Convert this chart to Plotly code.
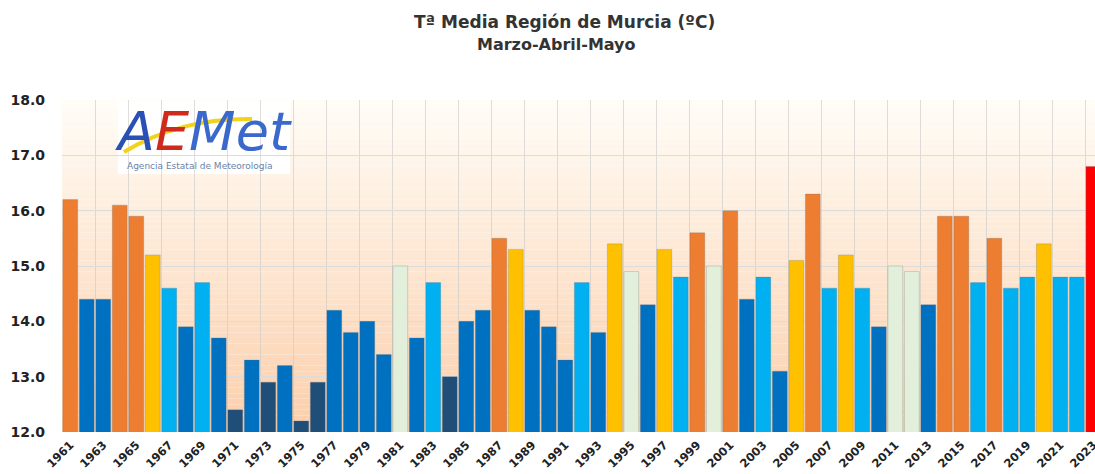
import plotly.graph_objects as go

years = list(range(1961, 2024))
values = [16.2, 14.4, 14.4, 16.1, 15.9, 15.2, 14.6, 13.9, 14.7, 13.7,
          12.4, 13.3, 12.9, 13.2, 12.2, 12.9, 14.2, 13.8, 14.0, 13.4,
          15.0, 13.7, 14.7, 13.0, 14.0, 14.2, 15.5, 15.3, 14.2, 13.9,
          13.3, 14.7, 13.8, 15.4, 14.9, 14.3, 15.3, 14.8, 15.6, 15.0,
          16.0, 14.4, 14.8, 13.1, 15.1, 16.3, 14.6, 15.2, 14.6, 13.9,
          15.0, 14.9, 14.3, 15.9, 15.9, 14.7, 15.5, 14.6, 14.8, 15.4,
          14.8, 14.8, 16.8]
# AEMET character: EC extremadamente cálido, MC muy cálido, C cálido, N normal,
# F frío, MF muy frío, EF extremadamente frío
classes = ["MC", "MF", "MF", "MC", "MC", "C", "F", "MF", "F", "MF",
           "EF", "MF", "EF", "MF", "EF", "EF", "MF", "MF", "MF", "MF",
           "N", "MF", "F", "EF", "MF", "MF", "MC", "C", "MF", "MF",
           "MF", "F", "MF", "C", "N", "MF", "C", "F", "MC", "N",
           "MC", "MF", "F", "MF", "C", "MC", "F", "C", "F", "MF",
           "N", "N", "MF", "MC", "MC", "F", "MC", "F", "F", "C",
           "F", "F", "EC"]
tick_years = list(range(1961, 2024, 2))
tick_labels = [str(y) for y in tick_years]
y_ticks = [12, 13, 14, 15, 16, 17, 18]
y_tick_labels = ["12.0", "13.0", "14.0", "15.0", "16.0", "17.0", "18.0"]
title_line1 = "Tª Media Región de Murcia (ºC)"
title_line2 = "Marzo-Abril-Mayo"

class_colors = {"EC": "#FF0000", "MC": "#ED7D31", "C": "#FFC000", "N": "#E2EFDA",
                "F": "#00B0F0", "MF": "#0070C0", "EF": "#1F4E79"}
bar_colors = [class_colors[c] for c in classes]

fig = go.Figure()
fig.add_trace(go.Bar(
    x=years, y=values,
    marker=dict(color=bar_colors, line=dict(color="rgba(110,110,110,0.45)", width=0.6)),
    width=0.9,
    hovertemplate="%{x}: %{y:.1f} ºC<extra></extra>",
))

# background gradient (cream at top -> peach at bottom)
shapes = []
n = 60
top = (255, 253, 247)
bot = (251, 207, 172)
for i in range(n):
    y0 = 12 + 6 * i / n
    y1 = 12 + 6 * (i + 1) / n
    t = 1 - (i + 0.5) / n  # 1 at bottom, 0 at top
    c = tuple(int(round(top[k] + (bot[k] - top[k]) * t)) for k in range(3))
    shapes.append(dict(type="rect", xref="paper", yref="y", x0=0, x1=1, y0=y0, y1=y1,
                       fillcolor="rgb(%d,%d,%d)" % c, line=dict(width=0), layer="below"))

# logo white box
L, R, T, B = 62, 1095, 100, 432
def px(x):
    return (x - L) / (R - L)
def py(y):
    return (B - y) / (B - T)
shapes.append(dict(type="rect", xref="paper", yref="paper", x0=px(118), x1=px(290),
                   y0=py(174), y1=py(101), fillcolor="white", line=dict(width=0), layer="between"))
shapes.append(dict(type="path", xref="paper", yref="paper",
                   path="M %f,%f Q %f,%f %f,%f" % (px(124), py(152), px(180), py(118), px(252), py(119)),
                   line=dict(color="#F2D21B", width=4), layer="above"))
fig.update_layout(shapes=shapes)

fig.add_annotation(xref="paper", yref="paper", x=px(203), y=py(131),
                   text="<span style='color:#2A4FB5'>A</span><span style='color:#CF2B1D'>E</span><span style='color:#3A68CC'>Met</span>",
                   showarrow=False, font=dict(family="DejaVu Sans", size=54, style="italic"),
                   xanchor="center", yanchor="middle")
fig.add_annotation(xref="paper", yref="paper", x=px(200), y=py(166),
                   text="Agencia Estatal de Meteorología",
                   showarrow=False, font=dict(family="DejaVu Sans", size=9, color="#6A82A8"),
                   xanchor="center", yanchor="middle")

# title as two lines
fig.add_annotation(xref="paper", yref="paper", x=px(564), y=py(22),
                   text="<b>%s</b>" % title_line1, showarrow=False,
                   font=dict(family="DejaVu Sans", size=17, color="#333333"),
                   xanchor="center", yanchor="middle")
fig.add_annotation(xref="paper", yref="paper", x=px(556), y=py(45),
                   text="<b>%s</b>" % title_line2, showarrow=False,
                   font=dict(family="DejaVu Sans", size=16, color="#333333"),
                   xanchor="center", yanchor="middle")

fig.update_layout(
    width=1095, height=474,
    margin=dict(l=62, r=0, t=100, b=42, autoexpand=False),
    paper_bgcolor="white", plot_bgcolor="white",
    showlegend=False,
    bargap=0.1,
    xaxis=dict(range=[1960.5, 2023.1], tickmode="array", tickvals=tick_years, ticktext=tick_labels,
               tickangle=-45, showgrid=False, zeroline=False, showline=False, ticks="",
               automargin=False, ticklabeloverflow="allow", ticklabelstandoff=3,
               tickfont=dict(family="DejaVu Sans", size=11.5, color="#222222", weight="bold"),
               minor=dict(tick0=1960.5, dtick=2, showgrid=True, gridcolor="rgba(200,200,200,0.6)", gridwidth=1)),
    yaxis=dict(range=[12, 18], tickmode="array", tickvals=y_ticks, ticktext=y_tick_labels,
               showgrid=True, gridcolor="#DCDCDC", gridwidth=1, zeroline=False, showline=False,
               ticks="", ticklabelstandoff=16, automargin=False,
               tickfont=dict(family="DejaVu Sans", size=14, color="#222222", weight="bold")),
)

fig.write_html("out.html", config={"displayModeBar": False},
               post_script="document.body.style.margin='0';document.body.style.padding='0';document.body.style.overflow='hidden';")
